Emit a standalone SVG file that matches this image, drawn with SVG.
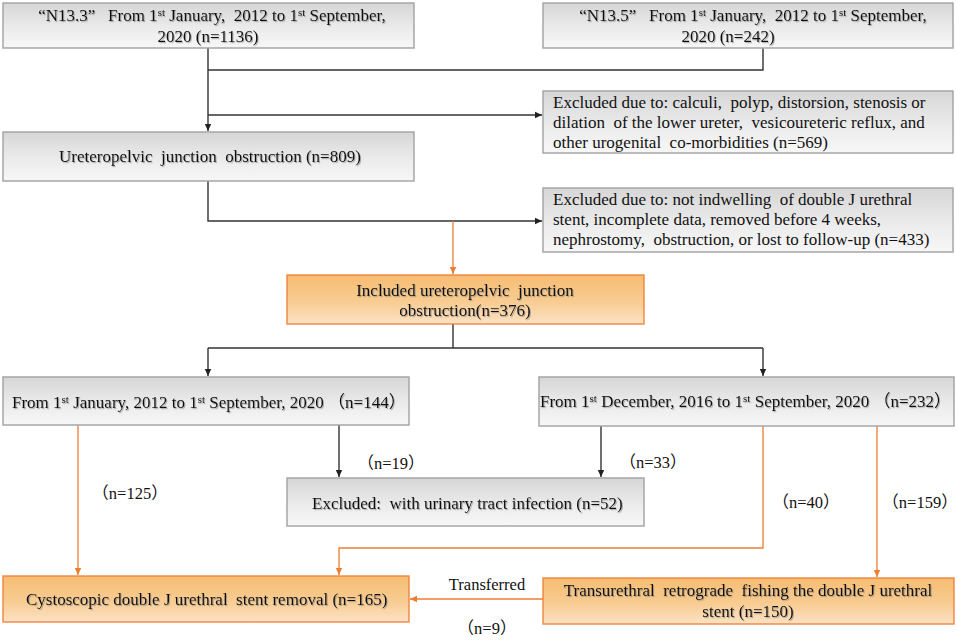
<svg xmlns="http://www.w3.org/2000/svg" width="957" height="642" viewBox="0 0 957 642">
<defs>
<linearGradient id="gGray" x1="0" y1="0" x2="0" y2="1">
<stop offset="0" stop-color="#d6d6d6"/>
<stop offset="0.55" stop-color="#ebebeb"/>
<stop offset="1" stop-color="#f7f7f7"/>
</linearGradient>
<linearGradient id="gOrange" x1="0" y1="0" x2="0" y2="1">
<stop offset="0" stop-color="#f6bc72"/>
<stop offset="0.55" stop-color="#f8cc92"/>
<stop offset="1" stop-color="#fce2c4"/>
</linearGradient>
<filter id="ts" x="-5%" y="-30%" width="110%" height="160%">
<feDropShadow dx="1" dy="1.2" stdDeviation="0.7" flood-color="#777" flood-opacity="0.55"/>
</filter>
<marker id="mB" markerUnits="userSpaceOnUse" markerWidth="8" markerHeight="8" refX="7" refY="4" orient="auto">
<path d="M0,0.8 L7,4 L0,7.2 Z" fill="#222"/>
</marker>
<marker id="mO" markerUnits="userSpaceOnUse" markerWidth="8" markerHeight="8" refX="7" refY="4" orient="auto">
<path d="M0,0.8 L7,4 L0,7.2 Z" fill="#ed7d31"/>
</marker>
</defs>
<style>
.gray{fill:url(#gGray);stroke:#a6a6a6;stroke-width:1.5}
.orng{fill:url(#gOrange);stroke:#ed7d31;stroke-width:1.5;stroke-opacity:0.85}
text{font-family:"Liberation Serif","Times New Roman","Noto Sans CJK SC",serif;font-size:17px;fill:#111;white-space:pre}
.bt{filter:url(#ts)}
.c{text-anchor:middle}
.bl{fill:none;stroke:#333;stroke-width:1.4}
.or{fill:none;stroke:#ed7d31;stroke-width:1.3}
.lbl{font-size:16.5px;text-anchor:middle}
.sup{font-size:11px}
</style>

<g id="connectors">
<path class="bl" d="M208,48 V131" marker-end="url(#mB)"/>
<path class="bl" d="M763,48 V70 H208"/>
<path class="bl" d="M208,115 H542" marker-end="url(#mB)"/>
<path class="bl" d="M208,181 V221 H542" marker-end="url(#mB)"/>
<path class="or" d="M453,221 V274" marker-end="url(#mO)"/>
<path class="bl" d="M453,324 V348"/>
<path class="bl" d="M208,348 H763"/>
<path class="bl" d="M208,348 V376" marker-end="url(#mB)"/>
<path class="bl" d="M763,348 V376" marker-end="url(#mB)"/>
<path class="bl" d="M339,425 V477" marker-end="url(#mB)"/>
<path class="bl" d="M601,426 V477" marker-end="url(#mB)"/>
<path class="or" d="M78,425 V575" marker-end="url(#mO)"/>
<path class="or" d="M763,426 V548 H339 V575" marker-end="url(#mO)"/>
<path class="or" d="M877,426 V577" marker-end="url(#mO)"/>
<path class="or" d="M543,599 H410" marker-end="url(#mO)"/>
<text class="lbl" x="487" y="590">Transferred</text>
<text class="lbl" x="487" y="634">（n=9）</text>
<text class="lbl" x="391" y="469">（n=19）</text>
<text class="lbl" x="130" y="499">（n=125）</text>
<text class="lbl" x="653" y="468">（n=33）</text>
<text class="lbl" x="806" y="508">（n=40）</text>
<text class="lbl" x="920" y="508">（n=159）</text>
</g>

<g id="n13_3">
<rect class="gray" x="3" y="3" width="411" height="45"/>
<text class="bt c" x="212" y="21">“N13.3”   From 1<tspan class="sup" dy="-5">st</tspan><tspan dy="5"> January,  2012 to 1</tspan><tspan class="sup" dy="-5">st</tspan><tspan dy="5"> September,</tspan></text>
<text class="bt c" x="208" y="42">2020 (n=1136)</text>
</g>

<g id="n13_5">
<rect class="gray" x="543" y="3" width="410" height="45"/>
<text class="bt c" x="753" y="21">“N13.5”   From 1<tspan class="sup" dy="-5">st</tspan><tspan dy="5"> January,  2012 to 1</tspan><tspan class="sup" dy="-5">st</tspan><tspan dy="5"> September,</tspan></text>
<text class="bt c" x="728" y="42">2020 (n=242)</text>
</g>

<g id="excluded1">
<rect class="gray" x="543" y="91" width="410" height="62"/>
<text x="553" y="108">Excluded due to: calculi,  polyp, distorsion, stenosis or</text>
<text x="553" y="128">dilation  of the lower ureter,  vesicoureteric reflux, and</text>
<text x="553" y="148">other urogenital  co-morbidities (n=569)</text>
</g>

<g id="upj">
<rect class="gray" x="3" y="132" width="411" height="49"/>
<text class="bt" x="59" y="162">Ureteropelvic  junction  obstruction (n=809)</text>
</g>

<g id="excluded2">
<rect class="gray" x="543" y="188" width="410" height="64"/>
<text x="553" y="205">Excluded due to: not indwelling  of double J urethral</text>
<text x="553" y="225">stent, incomplete data, removed before 4 weeks,</text>
<text x="553" y="245">nephrostomy,  obstruction, or lost to follow-up (n=433)</text>
</g>

<g id="included">
<rect class="orng" x="287" y="275" width="357" height="49"/>
<text class="bt c" x="465" y="296">Included ureteropelvic  junction</text>
<text class="bt c" x="465" y="316">obstruction(n=376)</text>
</g>

<g id="period1">
<rect class="gray" x="3" y="377" width="406" height="48"/>
<text class="bt" x="12" y="408">From 1<tspan class="sup" dy="-5">st</tspan><tspan dy="5"> January, 2012 to 1</tspan><tspan class="sup" dy="-5">st</tspan><tspan dy="5"> September, 2020 （n=144）</tspan></text>
</g>

<g id="period2">
<rect class="gray" x="539" y="377" width="415" height="49"/>
<text class="bt" x="540" y="407">From 1<tspan class="sup" dy="-5">st</tspan><tspan dy="5"> December, 2016 to 1</tspan><tspan class="sup" dy="-5">st</tspan><tspan dy="5"> September, 2020 （n=232）</tspan></text>
</g>

<g id="excluded_uti">
<rect class="gray" x="287" y="478" width="357" height="48"/>
<text class="bt" x="312" y="509">Excluded:  with urinary tract infection (n=52)</text>
</g>

<g id="cystoscopic">
<rect class="orng" x="3" y="576" width="406" height="46"/>
<text class="bt" x="26" y="605">Cystoscopic double J urethral  stent removal (n=165)</text>
</g>

<g id="transurethral">
<rect class="orng" x="543" y="578" width="411" height="46"/>
<text class="bt c" x="748" y="596">Transurethral  retrograde  fishing the double J urethral</text>
<text class="bt c" x="748" y="617">stent (n=150)</text>
</g>
</svg>
